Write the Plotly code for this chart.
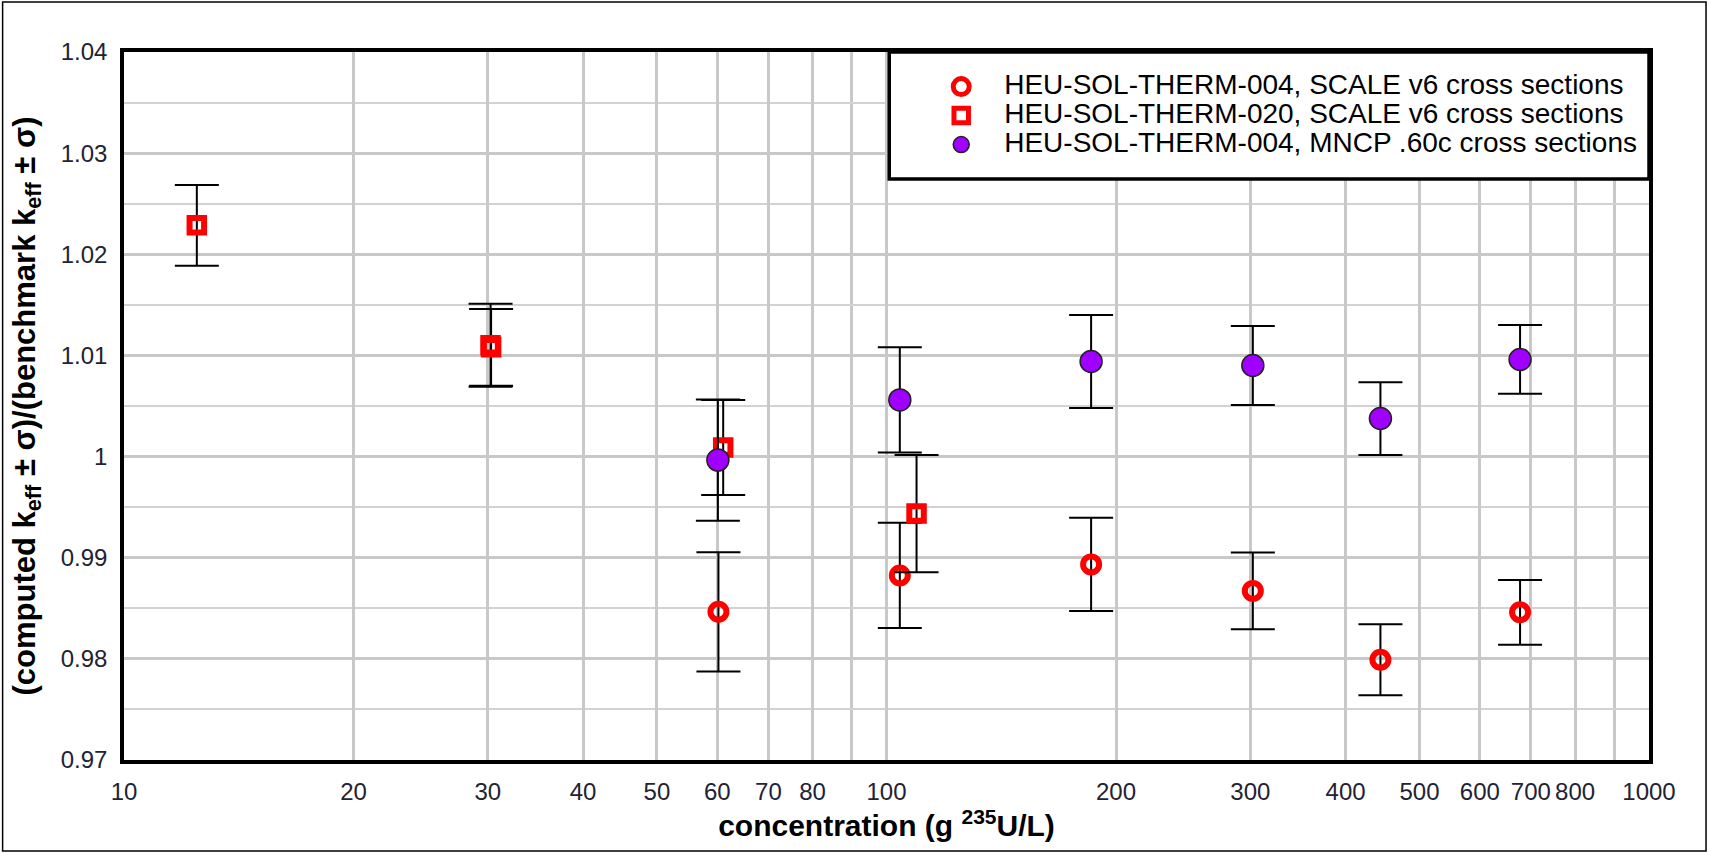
import plotly.graph_objects as go

# ---- data ----
conc_scale_004 = [60.2, 104.1, 185.5, 302.3, 444.4, 677.5]
k_scale_004 = [0.98465, 0.98825, 0.98934, 0.98672, 0.97991, 0.98460]
err_scale_004 = [0.0059, 0.0052, 0.0046, 0.0038, 0.0035, 0.0032]

conc_scale_020 = [12.46, 30.25, 30.30, 61.07, 109.5]
k_scale_020 = [1.02286, 1.01100, 1.01080, 1.00090, 0.99436]
err_scale_020 = [0.0040, 0.0041, 0.0038, 0.0047, 0.0058]

conc_mcnp_004 = [60.1, 104.1, 185.5, 302.3, 444.4, 677.5]
k_mcnp_004 = [0.99965, 1.00560, 1.00940, 1.00900, 1.00376, 1.00960]
err_mcnp_004 = [0.0060, 0.0052, 0.0046, 0.0039, 0.0036, 0.0034]

x_tickvals = [10, 20, 30, 40, 50, 60, 70, 80, 100, 200, 300, 400, 500, 600, 700, 800, 1000]
x_ticktext = ["10", "20", "30", "40", "50", "60", "70", "80", "100", "200", "300", "400", "500", "600", "700", "800", "1000"]
x_unlabeled_grid = [90, 900]
y_tickvals = [0.97, 0.98, 0.99, 1.00, 1.01, 1.02, 1.03, 1.04]
y_ticktext = ["0.97", "0.98", "0.99", "1", "1.01", "1.02", "1.03", "1.04"]

names = [
    "HEU-SOL-THERM-004, SCALE v6 cross sections",
    "HEU-SOL-THERM-020, SCALE v6 cross sections",
    "HEU-SOL-THERM-004, MNCP .60c cross sections",
]

FONT = "Liberation Sans, Arial, sans-serif"


def lname(s):
    return '<span style="font-size:28px">' + s + '</span>'


def ebar(arr):
    return dict(type="data", array=arr, visible=True, color="black", thickness=2, width=22)


fig = go.Figure()
fig.add_trace(go.Scatter(
    x=conc_scale_004, y=k_scale_004, mode="markers", name=lname(names[0]),
    marker=dict(symbol="circle-open", size=16, color="#FF0000", line=dict(width=6, color="#FF0000")),
    error_y=ebar(err_scale_004),
))
fig.add_trace(go.Scatter(
    x=conc_scale_020, y=k_scale_020, mode="markers", name=lname(names[1]),
    marker=dict(symbol="square-open", size=14.5, color="#FF0000", line=dict(width=6, color="#FF0000")),
    error_y=ebar(err_scale_020),
))
fig.add_trace(go.Scatter(
    x=conc_mcnp_004, y=k_mcnp_004, mode="markers", name=lname(names[2]),
    marker=dict(symbol="circle", size=22, color="#A000FF", line=dict(width=1.5, color="#222222")),
    error_y=ebar(err_mcnp_004),
))

fig.update_layout(
    width=1709, height=853,
    margin=dict(l=124, r=60, t=52, b=93, autoexpand=False),
    paper_bgcolor="white", plot_bgcolor="white",
    font=dict(family=FONT, color="black"),
    showlegend=True,
    legend=dict(
        x=0.5208, xanchor="left", y=0.9787, yanchor="top",
        bgcolor="rgba(0,0,0,0)", borderwidth=0,
        font=dict(size=20, family=FONT, color="black"),
        itemwidth=76, tracegroupgap=0,
    ),
    xaxis=dict(
        type="log", range=[1, 3], automargin=False,
        tickmode="array", tickvals=x_tickvals, ticktext=x_ticktext,
        showgrid=True, gridcolor="#C8C8C8", gridwidth=3,
        minor=dict(tickvals=x_unlabeled_grid, showgrid=True, gridcolor="#C8C8C8", gridwidth=3, ticks=""),
        showline=True, linecolor="black", linewidth=3.5, mirror=True,
        ticks="", ticklabelstandoff=7,
        tickfont=dict(size=24, family=FONT, color="#222233"),
        title=dict(text="<b>concentration (g <sup>235</sup>U/L)</b>",
                   font=dict(size=30, family=FONT, color="black"), standoff=8),
        zeroline=False,
    ),
    yaxis=dict(
        range=[0.97, 1.04], automargin=False,
        tickmode="array", tickvals=y_tickvals, ticktext=y_ticktext,
        showgrid=True, gridcolor="#C8C8C8", gridwidth=3,
        minor=dict(dtick=0.005, tick0=0.97, showgrid=True, gridcolor="#D2D2D2", gridwidth=2, ticks=""),
        showline=True, linecolor="black", linewidth=3.5, mirror=True,
        ticks="", ticklabelstandoff=8,
        tickfont=dict(size=24, family=FONT, color="#222233"),
        title=dict(text="<b>(computed k<sub>eff</sub> ± σ)/(benchmark k<sub>eff</sub> ± σ)</b>",
                   font=dict(size=31, family=FONT, color="black"), standoff=17),
        zeroline=False,
    ),
    shapes=[
        # legend box
        dict(type="rect", xref="paper", yref="paper", x0=0.5018, x1=1.0, y0=0.8206, y1=1.0,
             line=dict(color="black", width=3.5), fillcolor="white", layer="above"),
        # outer frame
        dict(type="rect", xref="paper", yref="paper", x0=-0.0796, x1=1.0374, y0=-0.1285, y1=1.0706,
             line=dict(color="black", width=1.5), fillcolor="rgba(0,0,0,0)", layer="above"),
    ],
)

fig.write_html(
    "out.html",
    config={"displayModeBar": False},
    post_script="document.body.style.margin='0';document.body.style.padding='0';",
)
